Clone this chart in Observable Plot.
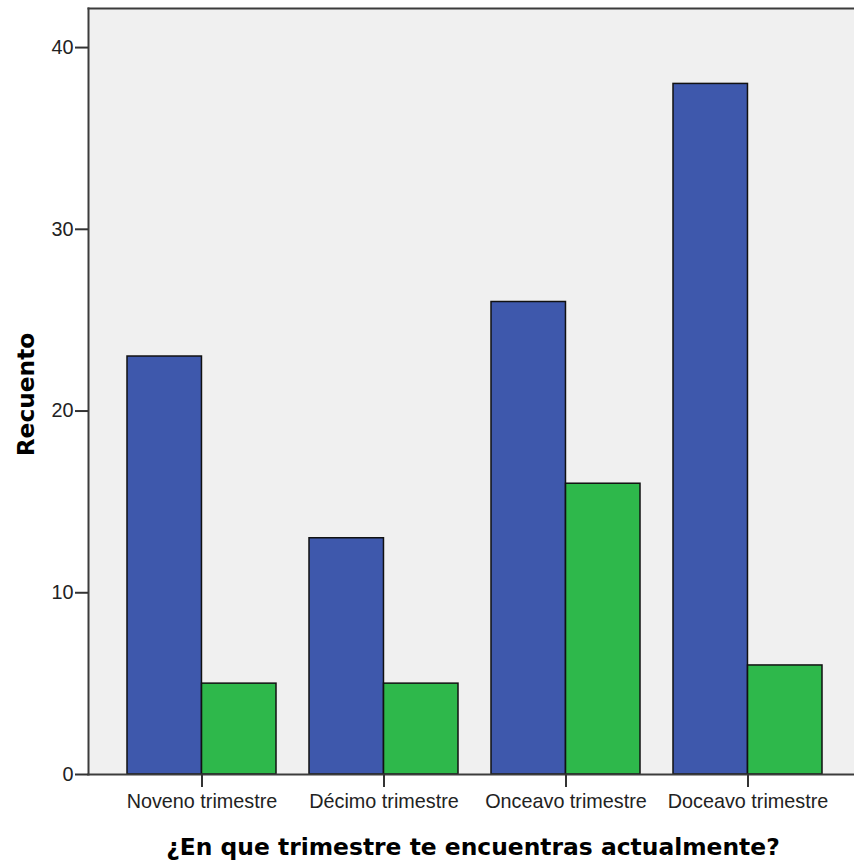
<!DOCTYPE html>
<html>
<head>
<meta charset="utf-8">
<script src="https://cdn.jsdelivr.net/npm/d3@7"></script>
<script src="https://cdn.jsdelivr.net/npm/@observablehq/plot@0.6"></script>
<style>
  html, body { margin: 0; padding: 0; background: #fff; }
</style>
</head>
<body>
<div id="chart"></div>
<script>
const categories = ["Noveno trimestre", "Décimo trimestre", "Onceavo trimestre", "Doceavo trimestre"];
const seriesBlue = [23, 13, 26, 38];
const seriesGreen = [5, 5, 16, 6];
const yTicks = [0, 10, 20, 30, 40];
const yLabel = "Recuento";
const xLabel = "¿En que trimestre te encuentras actualmente?";

const W = 854, H = 863;
const mL = 88, mT = 8, mB = 89;
const xRange = [88, 861];
const padInner = 0.183, padOuter = 0.21;
const step = (xRange[1] - xRange[0]) / (categories.length - padInner + 2 * padOuter);
const half = step * (1 - padInner) / 2;

const chart = Plot.plot({
  width: W,
  height: H,
  marginLeft: mL,
  marginTop: mT,
  marginBottom: mB,
  marginRight: 0,
  style: { fontFamily: "Liberation Sans, Arial, sans-serif", fontSize: "19.8px", color: "#222", background: "#fff" },
  x: { domain: categories, range: xRange, paddingInner: padInner, paddingOuter: padOuter, label: null },
  y: { domain: [0, 42.15], label: null },
  marks: [
    Plot.frame({ fill: "#f0f0f0" }),
    Plot.barY(categories, { x: d => d, y: (d, i) => seriesBlue[i], insetRight: half, fill: "#3e58ac", stroke: "#111", strokeWidth: 1.5 }),
    Plot.barY(categories, { x: d => d, y: (d, i) => seriesGreen[i], insetLeft: half, fill: "#2eb84b", stroke: "#111", strokeWidth: 1.5 }),
    Plot.frame({ anchor: "top", stroke: "#3c3c3c", strokeWidth: 2 }),
    Plot.frame({ anchor: "left", stroke: "#3c3c3c", strokeWidth: 2 }),
    Plot.frame({ anchor: "bottom", stroke: "#3c3c3c", strokeWidth: 2 }),
    Plot.axisY({ ticks: yTicks, tickSize: 13, tickPadding: 2, label: null, stroke: "#333", strokeWidth: 2 }),
    Plot.axisX({ tickSize: 13, tickPadding: 6, label: null, stroke: "#333", strokeWidth: 2 }),
    Plot.text([yLabel], { frameAnchor: "left", textAnchor: "middle", lineAnchor: "middle", dx: -62, dy: 3, rotate: -90, fontWeight: "bold", fontSize: 23.3, fontFamily: "DejaVu Sans", fill: "#000" }),
    Plot.text([xLabel], { frameAnchor: "bottom", textAnchor: "middle", lineAnchor: "middle", dx: 1.5, dy: 72.5, fontWeight: "bold", fontSize: 23.4, fontFamily: "DejaVu Sans", fill: "#000" })
  ]
});
document.getElementById("chart").appendChild(chart);
</script>
</body>
</html>
